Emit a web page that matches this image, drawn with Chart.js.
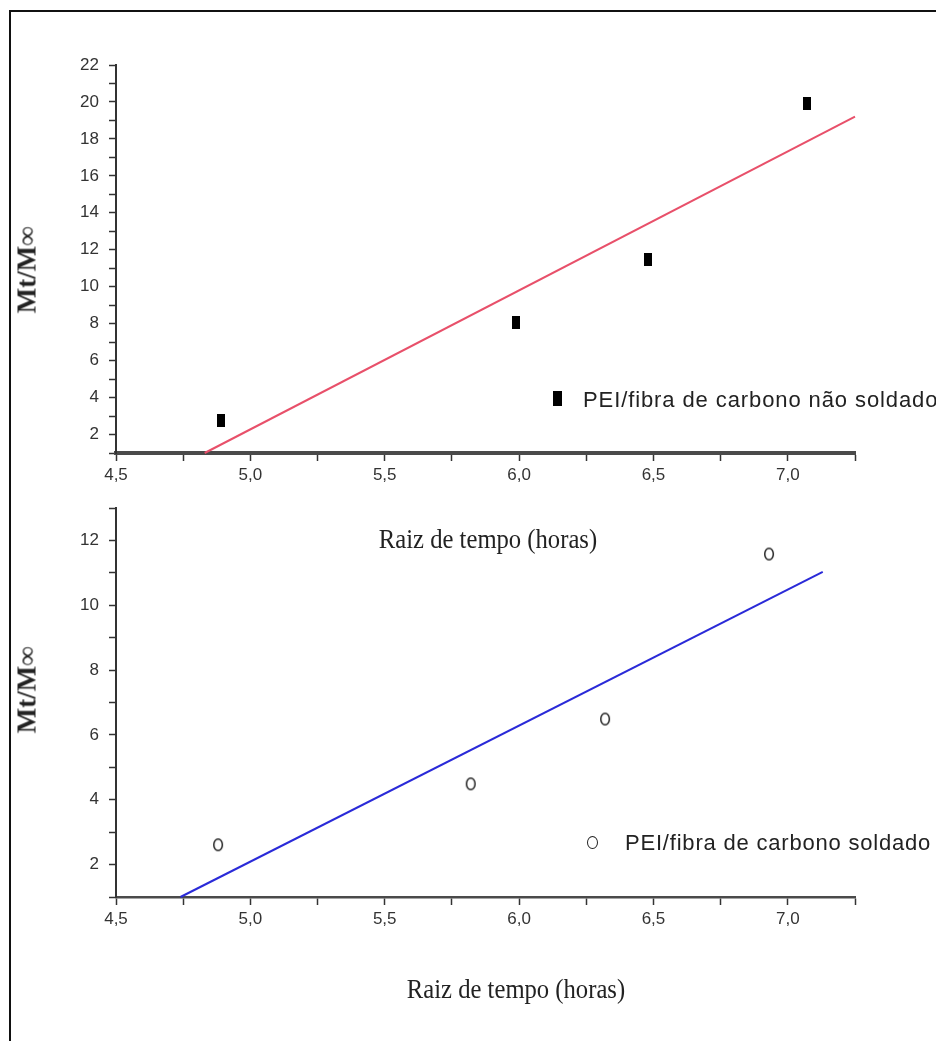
<!DOCTYPE html>
<html>
<head>
<meta charset="utf-8">
<script src="https://cdn.jsdelivr.net/npm/chart.js@4/dist/chart.umd.min.js"></script>
<style>
  html, body { margin: 0; padding: 0; background: #fff; overflow: hidden; }
  #page { position: relative; width: 936px; height: 1041px; overflow: hidden; }
  #frame { position: absolute; left: 9px; top: 10px; width: 1000px; height: 1100px; border: 2px solid #111; }
  canvas { position: absolute; left: 0; }
  #topChart { top: 0; }
  #bottomChart { top: 470px; }
  .ytitle { position: absolute; font: bold 27px "Liberation Serif", "DejaVu Serif", serif; color: #222;
            transform: translate(-50%, -50%) rotate(-90deg); white-space: nowrap; }
  .xtitle { position: absolute; width: 400px; text-align: center; font: 28px "Liberation Serif", serif; color: #222;
            transform: scaleX(0.88); white-space: nowrap; }
  .legend { position: absolute; font: 22px "Liberation Sans", Arial, sans-serif; color: #222; white-space: nowrap; }
  .legend .mk { position: absolute; }
  .legend .txt { position: absolute; top: 0; }
</style>
</head>
<body>
<div id="page">
  <div id="frame"></div>
  <canvas id="topChart" width="936" height="560"></canvas>
  <canvas id="bottomChart" width="936" height="571"></canvas>

  <div class="ytitle" style="left:27px; top:270px;">Mt/M∞</div>
  <div class="ytitle" style="left:27px; top:690px;">Mt/M∞</div>
  <div class="xtitle" style="left:288px; top:523px;">Raiz de tempo (horas)</div>
  <div class="xtitle" style="left:316px; top:973px;">Raiz de tempo (horas)</div>

  <div class="legend" style="left:552px; top:387px;">
    <span class="mk" style="left:1px; top:4px; width:9px; height:15px; background:#000;"></span>
    <span class="txt" style="left:31px; letter-spacing:0.9px;">PEI/fibra de carbono não soldado</span>
  </div>
  <div class="legend" style="left:587px; top:830px;">
    <span class="mk" style="left:0; top:6px; width:9px; height:11px; border:1.5px solid #222; border-radius:50%;"></span>
    <span class="txt" style="left:38px; letter-spacing:0.8px;">PEI/fibra de carbono soldado</span>
  </div>
</div>

<script>
// PEI / carbon fibre, not welded: measured points and linear fit ends
const xNaoSoldado = [4.89, 5.99, 6.48, 7.07];
const yNaoSoldado = [2.74, 8.04, 11.5, 19.94];
const xFitNaoSoldado = [4.83, 7.25];
const yFitNaoSoldado = [1.0, 19.2];

// PEI / carbon fibre, welded
const xSoldado = [4.88, 5.82, 6.32, 6.93];
const ySoldado = [2.61, 4.49, 6.49, 11.58];
const xFitSoldado = [4.74, 7.13];
const yFitSoldado = [1.0, 11.03];

// axis ranges
const xRange = [4.5, 7.25];
const yRangeTop = [1, 22];
const yRangeBottom = [1, 13];

const TICK_FONT = { family: '"Liberation Sans Narrow", "Liberation Sans", Arial, sans-serif', size: 17 };

function toPoints(xs, ys) {
    return xs.map((x, i) => ({ x: x, y: ys[i] }));
}

// small marker images for the two series
function squareMarker() {
    const c = document.createElement('canvas');
    c.width = 8; c.height = 13;
    const g = c.getContext('2d');
    g.fillStyle = '#000';
    g.fillRect(0, 0, 8, 13);
    return c;
}

function ringMarker() {
    const c = document.createElement('canvas');
    c.width = 12; c.height = 15;
    const g = c.getContext('2d');
    g.strokeStyle = '#222';
    g.lineWidth = 1.5;
    g.fillStyle = '#fff';
    g.beginPath();
    g.ellipse(6, 7.5, 4.3, 5.8, 0, 0, Math.PI * 2);
    g.fill();
    g.stroke();
    return c;
}

function xLabel(v) {
    const half = v * 2;
    if (Math.abs(half - Math.round(half)) < 1e-6 && v < 7.2) {
        return v.toFixed(1).replace('.', ',');
    }
    return '';
}

function buildChart(canvasId, opts) {
    return new Chart(document.getElementById(canvasId), {
        type: 'scatter',
        data: {
            datasets: [
                {
                    data: toPoints(opts.xs, opts.ys),
                    pointStyle: opts.marker,
                    pointRadius: 6,
                    showLine: false
                },
                {
                    type: 'line',
                    data: toPoints(opts.fitX, opts.fitY),
                    borderColor: opts.lineColor,
                    borderWidth: 2,
                    pointRadius: 0,
                    fill: false,
                    clip: false
                }
            ]
        },
        options: {
            responsive: false,
            animation: false,
            layout: { padding: { top: opts.padTop, right: 81, left: 0, bottom: 0 } },
            plugins: { legend: { display: false }, tooltip: { enabled: false } },
            scales: {
                x: {
                    type: 'linear',
                    min: xRange[0],
                    max: xRange[1],
                    afterFit: (s) => { s.height = opts.xHeight; },
                    border: { display: true, color: '#4a4a4a', width: opts.xBorder },
                    grid: { drawOnChartArea: false, drawTicks: true, tickLength: 8, tickColor: '#333', tickWidth: 1.5 },
                    ticks: {
                        stepSize: 0.25,
                        autoSkip: false,
                        maxRotation: 0,
                        padding: 4,
                        color: '#333',
                        font: TICK_FONT,
                        callback: xLabel
                    }
                },
                y: {
                    type: 'linear',
                    min: opts.yRange[0],
                    max: opts.yRange[1],
                    afterFit: (s) => { s.width = 116; },
                    border: { display: true, color: '#333', width: 2 },
                    grid: { drawOnChartArea: false, drawTicks: true, tickLength: 7, tickColor: '#333', tickWidth: 1.5 },
                    ticks: {
                        stepSize: 1,
                        autoSkip: false,
                        padding: 10,
                        color: '#333',
                        font: TICK_FONT,
                        callback: (v) => (v % 2 === 0 ? String(v) : '')
                    }
                }
            }
        }
    });
}

buildChart('topChart', {
    xs: xNaoSoldado, ys: yNaoSoldado,
    fitX: xFitNaoSoldado, fitY: yFitNaoSoldado,
    marker: squareMarker(),
    lineColor: '#e8506a',
    yRange: yRangeTop,
    padTop: 65,
    xHeight: 107,
    xBorder: 4
});

buildChart('bottomChart', {
    xs: xSoldado, ys: ySoldado,
    fitX: xFitSoldado, fitY: yFitSoldado,
    marker: ringMarker(),
    lineColor: '#2a2ad8',
    yRange: yRangeBottom,
    padTop: 38,
    xHeight: 144,
    xBorder: 2.5
});
</script>
</body>
</html>
